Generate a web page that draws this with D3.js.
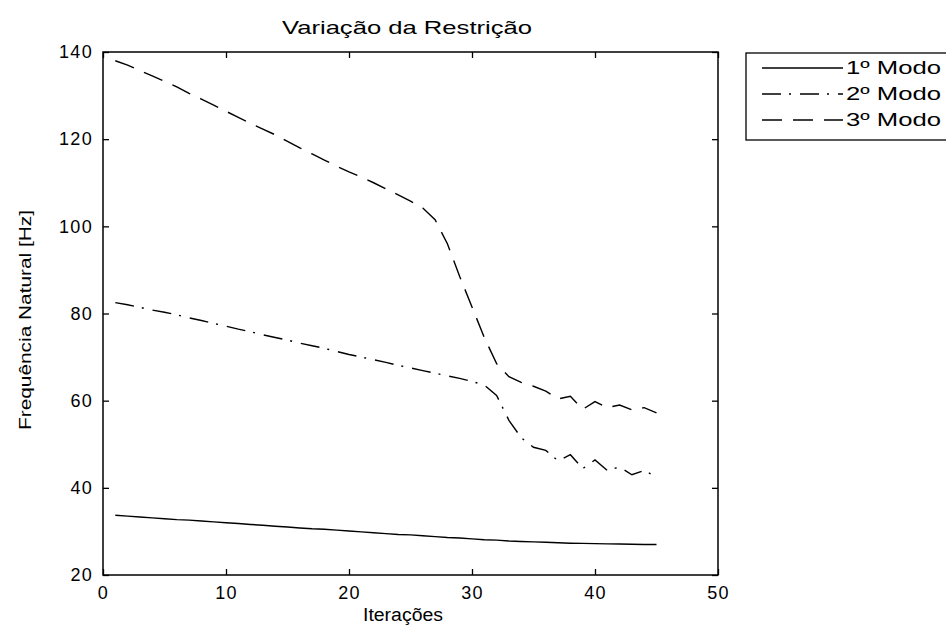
<!DOCTYPE html>
<html>
<head>
<meta charset="utf-8">
<script src="https://cdn.jsdelivr.net/npm/d3@7"></script>
<style>
  body { margin: 0; background: #fff; }
  svg { display: block; }
  text { font-family: "Liberation Sans", Arial, sans-serif; fill: #000; }
</style>
</head>
<body>
<div id="chart"></div>
<script>
const iteracoes = [1, 2, 3, 4, 5, 6, 7, 8, 9, 10, 11, 12, 13, 14, 15, 16, 17, 18, 19, 20,
  21, 22, 23, 24, 25, 26, 27, 28, 29, 30, 31, 32, 33, 34, 35, 36, 37, 38, 39, 40,
  41, 42, 43, 44, 45];
const modo1 = [33.7, 33.5, 33.3, 33.1, 32.9, 32.7, 32.6, 32.4, 32.2, 32.0,
  31.8, 31.6, 31.4, 31.2, 31.0, 30.8, 30.6, 30.5, 30.3, 30.1,
  29.9, 29.7, 29.5, 29.3, 29.2, 29.0, 28.8, 28.6, 28.5, 28.3,
  28.1, 28.0, 27.8, 27.7, 27.6, 27.5, 27.4, 27.3, 27.25, 27.2,
  27.15, 27.1, 27.05, 27.0, 27.0];
const modo2 = [82.5, 82.0, 81.4, 80.8, 80.3, 79.7, 79.0, 78.4, 77.7, 77.1,
  76.4, 75.8, 75.1, 74.5, 73.9, 73.2, 72.6, 72.0, 71.3, 70.6,
  70.0, 69.4, 68.8, 68.1, 67.5, 66.9, 66.3, 65.7, 65.1, 64.4,
  63.6, 61.2, 55.5, 51.5, 49.3, 48.6, 46.2, 47.6, 44.4, 46.4,
  44.0, 44.8, 43.0, 44.0, 42.5];
const modo3 = [138.0, 137.0, 135.7, 134.5, 133.3, 132.0, 130.5, 129.2, 127.8, 126.4,
  125.0, 123.6, 122.3, 121.0, 119.5, 118.0, 116.6, 115.2, 113.8, 112.5,
  111.3, 110.0, 108.6, 107.2, 105.8, 104.2, 101.5, 96.0, 88.5, 81.5,
  74.5, 68.5, 65.5, 64.2, 63.3, 62.2, 60.4, 61.0, 58.0, 59.8,
  58.4, 59.0, 57.9, 58.4, 57.2];
const seriesNames = ["1º Modo", "2º Modo", "3º Modo"];
const xTicks = [0, 10, 20, 30, 40, 50];
const yTicks = [20, 40, 60, 80, 100, 120, 140];

const width = 946;
const height = 628;
const margin = { top: 52, right: 228, bottom: 53, left: 103 };
const dashes = [null, "19,8,2,9", "20,11"];

const x = d3
  .scaleLinear()
  .domain([0, 50])
  .range([margin.left, width - margin.right]);
const y = d3
  .scaleLinear()
  .domain([20, 140])
  .range([height - margin.bottom, margin.top]);

const svg = d3
  .select("#chart")
  .append("svg")
  .attr("width", width)
  .attr("height", height)
  .attr("viewBox", [0, 0, width, height]);

const tickStyle = (g) =>
  g
    .attr("font-size", null)
    .attr("font-family", null)
    .call((g) => g.select(".domain").remove())
    .call((g) => g.selectAll(".tick line").attr("stroke", "#000").attr("stroke-width", 1.3))
    .call((g) =>
      g.selectAll(".tick text").attr("font-size", 18).attr("letter-spacing", 1.3)
    );

// bottom / left axes with labels, ticks pointing inward
svg
  .append("g")
  .attr("transform", `translate(0,${y.range()[0]})`)
  .call(d3.axisBottom(x).tickValues(xTicks).tickSizeInner(-6).tickSizeOuter(0).tickPadding(11))
  .call(tickStyle);
svg
  .append("g")
  .attr("transform", `translate(${x.range()[0]},0)`)
  .call(d3.axisLeft(y).tickValues(yTicks).tickSizeInner(-6).tickSizeOuter(0).tickPadding(10))
  .call(tickStyle);

// top / right axes, ticks only
svg
  .append("g")
  .attr("transform", `translate(0,${y.range()[1]})`)
  .call(d3.axisTop(x).tickValues(xTicks).tickSizeInner(-6).tickSizeOuter(0).tickFormat(""))
  .call(tickStyle);
svg
  .append("g")
  .attr("transform", `translate(${x.range()[1]},0)`)
  .call(d3.axisRight(y).tickValues(yTicks).tickSizeInner(-6).tickSizeOuter(0).tickFormat(""))
  .call(tickStyle);

// box
svg
  .append("rect")
  .attr("x", x.range()[0])
  .attr("y", y.range()[1])
  .attr("width", x.range()[1] - x.range()[0])
  .attr("height", y.range()[0] - y.range()[1])
  .attr("fill", "none")
  .attr("stroke", "#000")
  .attr("stroke-width", 1.5);

const line = d3
  .line()
  .x((d, i) => x(iteracoes[i]))
  .y((d) => y(d));

const series = [modo1, modo2, modo3];
svg
  .append("g")
  .selectAll("path")
  .data(series)
  .join("path")
  .attr("d", line)
  .attr("fill", "none")
  .attr("stroke", "#000")
  .attr("stroke-width", 1.4)
  .attr("stroke-dasharray", (d, i) => dashes[i]);

// title and axis labels
svg
  .append("text")
  .attr("x", 407)
  .attr("y", 34)
  .attr("text-anchor", "middle")
  .attr("font-size", 19)
  .attr("textLength", 250)
  .attr("lengthAdjust", "spacingAndGlyphs")
  .text("Variação da Restrição");

svg
  .append("text")
  .attr("x", 403)
  .attr("y", 621)
  .attr("text-anchor", "middle")
  .attr("font-size", 18)
  .attr("textLength", 80)
  .attr("lengthAdjust", "spacingAndGlyphs")
  .text("Iterações");

svg
  .append("text")
  .attr("transform", "translate(25,320)rotate(-90)")
  .attr("text-anchor", "middle")
  .attr("dy", "0.35em")
  .attr("font-size", 17)
  .attr("textLength", 220)
  .attr("lengthAdjust", "spacingAndGlyphs")
  .text("Frequência Natural [Hz]");

// legend
const legend = svg.append("g");
legend
  .append("rect")
  .attr("x", 746)
  .attr("y", 53)
  .attr("width", 220)
  .attr("height", 87)
  .attr("fill", "#fff")
  .attr("stroke", "#000")
  .attr("stroke-width", 1.3);

const item = legend
  .selectAll(".item")
  .data(seriesNames)
  .join("g")
  .attr("class", "item")
  .attr("transform", (d, i) => `translate(0,${68 + i * 26})`);
item
  .append("line")
  .attr("x1", 762)
  .attr("x2", 843)
  .attr("stroke", "#000")
  .attr("stroke-width", 1.3)
  .attr("stroke-dasharray", (d, i) => dashes[i]);
item
  .append("text")
  .attr("x", 846)
  .attr("dy", "0.35em")
  .attr("font-size", 18)
  .attr("textLength", 95)
  .attr("lengthAdjust", "spacingAndGlyphs")
  .text((d) => d);
</script>
</body>
</html>
